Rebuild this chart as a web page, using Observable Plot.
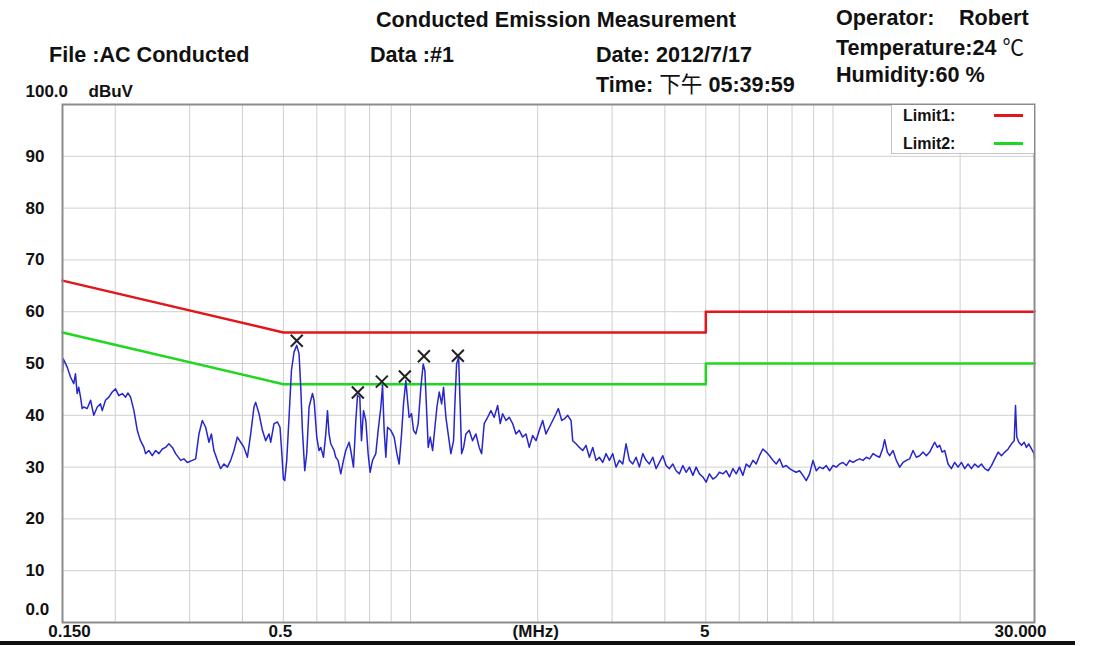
<!DOCTYPE html>
<html><head><meta charset="utf-8">
<script src="https://cdn.jsdelivr.net/npm/d3@7"></script>
<script src="https://cdn.jsdelivr.net/npm/@observablehq/plot@0.6"></script>
<style>
body{margin:0;background:#fff;}
#wrap{position:relative;width:1100px;height:646px;overflow:hidden;font-family:"Liberation Sans",Arial,"Noto Sans CJK SC",sans-serif;color:#111;}
#chart{position:absolute;left:0;top:0;}
.h{position:absolute;font-weight:bold;font-size:21.6px;line-height:1;white-space:pre;}
.cjk{font-family:"Noto Sans CJK SC",sans-serif;font-weight:normal;}
#legend{position:absolute;left:891px;top:105px;width:142px;height:48px;background:#fff;border-left:1px solid #c4c4c4;border-bottom:1px solid #c4c4c4;}
.lt{position:absolute;left:11px;font-size:16px;font-weight:bold;line-height:1;}
.ll{position:absolute;left:102px;width:29px;height:3px;}
#baseline{position:absolute;left:0;top:641px;width:1075px;height:4px;background:#111;}
</style></head><body>
<div id="wrap">
<div id="chart"></div>
<div class="h" style="left:376px;top:9px">Conducted Emission Measurement</div>
<div class="h" style="left:836px;top:7px">Operator:</div>
<div class="h" style="left:959px;top:7px">Robert</div>
<div class="h" style="left:836px;top:35px">Temperature:24 <span class="cjk">℃</span></div>
<div class="h" style="left:836px;top:64px">Humidity:60 %</div>
<div class="h" style="left:49px;top:44px">File :AC Conducted</div>
<div class="h" style="left:370px;top:44px">Data :#1</div>
<div class="h" style="left:596px;top:44px">Date: 2012/7/17</div>
<div class="h" style="left:596px;top:72px">Time: <span class="cjk">下午</span> 05:39:59</div>
<div id="legend">
  <div class="lt" style="top:3px">Limit1:</div>
  <div class="ll" style="top:9px;background:#e3141c"></div>
  <div class="lt" style="top:31px">Limit2:</div>
  <div class="ll" style="top:37px;background:#1ed81e"></div>
</div>
<div id="baseline"></div>
</div>
<script>
// measured trace: frequency (MHz) and level (dBuV)
const freq = [
0.150,0.1506,0.1539,0.1567,0.1595,0.1610,0.1625,0.1639,0.1655,0.1670,
0.1685,0.1716,0.1748,0.1779,0.1813,0.1845,0.1863,0.1896,0.1931,0.1967,
0.2003,0.2039,0.2078,0.2115,0.2142,0.2174,0.2214,0.2255,0.2274,0.2295,
0.2338,0.2359,0.2402,0.2447,0.2492,0.2537,0.2585,0.2631,0.2679,0.2730,
0.2779,0.2856,0.2907,0.2962,0.3044,0.3100,0.3156,0.3214,0.3273,0.3333,
0.3377,0.3424,0.3489,0.3552,0.3617,0.3685,0.3751,0.3819,0.3891,0.3962,
0.4034,0.4110,0.4184,0.4260,0.4300,0.4379,0.4460,0.4541,0.4624,0.4667,
0.4751,0.4841,0.4909,0.4947,0.5001,
0.5037,0.5092,0.5157,0.5224,0.5299,0.5378,0.5446,0.5497,0.5547,0.5618,
0.5679,0.5752,0.5859,0.5910,0.5998,0.6073,0.6131,0.6222,0.6300,0.6359,
0.6413,0.6474,0.6591,0.6652,0.6737,0.6837,0.6938,0.7026,0.7154,0.7221,
0.7327,0.7421,0.7490,0.7584,0.7654,0.7739,0.7836,0.7936,0.8022,0.8129,
0.8276,0.8382,0.8507,0.8585,0.8661,0.8741,0.8822,0.8983,0.9147,0.9282,
0.9399,0.9522,0.9625,0.9748,0.9838,0.9925,1.0056,1.0165,1.0295,1.0425,
1.0579,1.0714,1.0814,1.0934,1.1013,1.1133,1.1280,1.1421,1.1548,1.1693,
1.1848,1.1972,1.2126,1.2277,1.2459,1.2644,1.2735,1.2853,1.2996,1.3111,
1.3211,1.3354,1.3523,1.3769,1.4024,1.4281,1.4539,1.4733,1.4941,1.5222,
1.5498,1.5780,1.6076,1.6307,1.6520,1.6823,1.7129,1.7447,1.7766,1.8089,
1.8425,1.8764,1.9103,1.9458,1.9815,2.0175,2.0550,2.0924,2.1306,2.1704,
2.2097,2.2379,2.2800,
2.3122,2.3552,2.3985,2.4207,2.4647,2.5098,2.5565,2.6028,2.6507,2.7000,
2.7485,2.7990,2.8511,2.9028,2.9561,3.0111,3.0657,3.1220,3.1800,3.2376,
3.2970,3.3581,3.4190,3.4817,3.5465,3.6108,3.6764,3.7455,3.8133,3.8823,
3.9555,4.0272,4.1003,4.1775,4.2533,4.3304,4.4120,4.4919,4.5734,4.6596,
4.7434,4.8296,4.9205,5.0097,5.1006,5.1966,5.2908,5.3867,5.4882,5.5877,
5.6891,5.7963,5.9013,6.0083,6.1217,6.2327,6.3458,6.4652,6.5823,6.7002,
6.8249,6.9500,7.0761,7.2096,7.3403,7.4733,7.6140,7.7522,7.8926,8.0412,
8.1870,8.3355,8.4906,8.6466,8.8032,8.9690,9.1316,9.2972,9.4721,9.6440,
9.8189,10.001,10.185,10.370,10.562,10.757,10.952,11.155,11.358,11.566,
11.779,11.992,12.212,12.440,12.665,12.898,13.138,13.253,13.450,13.622,
13.875,14.126,14.386,14.652,14.917,15.191,15.474,15.753,16.042,16.341,
16.638,16.944,17.259,17.410,17.669,17.890,18.126,18.387,18.729,19.073,
19.418,19.779,20.142,20.508,20.889,21.273,21.659,22.062,22.467,22.875,
23.301,23.729,24.159,24.609,25.056,25.517,25.991,26.463,26.858,27.050,
27.243,27.540,27.948,28.364,28.714,29.076,29.508,29.945,30.0
];
const level = [
48.3,50.9,49.3,47.4,46.1,48.0,44.2,45.4,43.5,41.3,
41.6,41.3,42.9,40.0,41.6,42.2,40.9,42.9,43.5,44.5,
45.1,43.8,44.2,43.5,44.3,43.5,40.9,37.1,36.1,35.1,
33.8,32.6,33.2,32.2,33.2,32.6,33.5,33.8,34.5,33.8,
32.6,31.3,31.6,30.9,31.3,31.6,36.4,39.0,37.7,34.8,
36.4,33.2,31.3,29.7,30.6,30.0,31.3,33.2,35.8,34.8,
33.8,31.9,36.4,41.6,42.5,40.3,37.1,35.1,36.4,34.8,
38.4,38.7,37.7,33.8,27.7,
27.4,31.3,39.6,48.6,52.2,53.5,51.9,45.4,37.1,29.3,
32.6,41.6,44.2,42.9,35.8,33.2,33.8,31.9,36.4,40.9,
36.4,34.5,33.2,31.9,31.3,28.7,31.3,33.2,34.8,33.2,
30.0,39.0,43.8,43.5,35.1,40.9,39.0,32.6,29.0,31.3,
32.6,37.1,41.6,45.8,37.1,31.9,37.7,37.1,35.8,32.6,
30.6,36.4,42.2,46.7,42.9,39.6,40.3,37.1,36.4,38.4,
45.4,49.9,48.6,39.6,33.8,35.8,33.2,37.7,41.6,44.5,
42.2,45.4,39.6,36.4,32.6,35.1,42.2,49.9,51.2,41.6,
32.6,33.8,36.4,37.1,35.1,36.4,33.8,32.6,38.4,39.6,
40.9,39.6,41.9,38.4,40.3,39.0,39.6,38.4,36.4,37.1,
35.8,36.4,33.8,36.1,35.1,37.1,39.0,36.4,37.7,39.0,
40.3,41.3,39.0,
39.3,40.0,39.0,35.1,34.5,33.8,33.2,34.2,31.9,33.8,
31.3,31.9,30.9,32.6,31.3,32.6,30.0,31.3,30.6,34.5,
31.3,30.6,31.9,30.0,32.6,31.3,30.6,31.9,29.7,30.9,
32.2,30.3,29.7,30.6,29.3,28.7,30.3,29.0,30.0,28.4,
30.0,28.7,28.1,27.1,28.7,27.7,28.1,29.0,28.7,29.3,
28.1,29.7,28.7,30.0,28.4,30.6,30.0,31.3,30.6,32.2,
33.5,32.9,32.2,31.3,30.6,31.6,30.0,30.3,29.7,29.3,
29.0,29.3,28.4,27.4,28.7,31.3,29.3,30.0,29.7,30.3,
29.3,30.3,30.0,30.6,30.9,30.3,31.3,30.9,31.3,31.6,
31.3,31.9,31.6,32.6,32.2,31.9,33.8,35.3,32.9,32.2,
33.2,31.3,30.0,30.9,31.3,31.6,33.2,31.9,32.2,32.9,
32.2,32.9,34.2,34.8,33.8,34.2,32.9,33.2,30.6,29.7,
30.9,30.0,30.9,29.7,30.6,29.7,30.6,30.0,30.6,29.7,
29.3,30.3,31.6,32.9,32.2,32.9,33.5,34.5,35.1,41.9,
35.8,34.8,34.2,34.8,33.8,34.5,33.5,32.6,31.7
];
// limit lines
const limitFreq = [0.15, 0.5, 5, 5, 30];
const limit1 = [66, 56, 56, 60, 60];
const limit2 = [56, 46, 46, 50, 50];
// peak markers
const markerFreq = [0.5378, 0.7503, 0.8551, 0.9695, 1.0757, 1.2944];
const markerLevel = [54.4, 44.4, 46.5, 47.5, 51.4, 51.5];
// axes
const yTicks = [10, 20, 30, 40, 50, 60, 70, 80, 90];
const xGrid = [0.2,0.3,0.4,0.5,0.6,0.7,0.8,0.9,1,2,3,4,5,6,7,8,9,10,20];
const xLabelFreq = [0.15, 0.5, 2, 5, 30];
const xLabelText = ["0.150", "0.5", "(MHz)", "5", "30.000"];
const xLabelShift = [7, -3, -2, -1, -14];

const trace = freq.map((f, i) => ({f, v: level[i]}));
const lim1 = limitFreq.map((f, i) => ({f, v: limit1[i]}));
const lim2 = limitFreq.map((f, i) => ({f, v: limit2[i]}));
const markers = markerFreq.map((f, i) => ({f, v: markerLevel[i]}));

const lbl = {fontSize: 17, fontWeight: "bold", fill: "#111"};
const chart = Plot.plot({
  width: 1100, height: 646,
  marginLeft: 62, marginRight: 66, marginTop: 104, marginBottom: 24,
  x: {type: "log", domain: [0.15, 30], axis: null},
  y: {domain: [0, 100], axis: null},
  style: {fontFamily: "'Liberation Sans', Arial, sans-serif", background: "#fff"},
  marks: [
    Plot.gridX(xGrid, {stroke: "#cfcfcf", strokeOpacity: 1, strokeWidth: 1}),
    Plot.gridY(yTicks, {stroke: "#cfcfcf", strokeOpacity: 1, strokeWidth: 1}),
    Plot.line(lim1, {x: "f", y: "v", stroke: "#e3141c", strokeWidth: 2.5}),
    Plot.line(lim2, {x: "f", y: "v", stroke: "#1ed81e", strokeWidth: 2.5}),
    Plot.line(trace, {x: "f", y: "v", stroke: "#2626cc", strokeWidth: 1.5}),
    Plot.dot(markers, {x: "f", y: "v", symbol: "times", r: 5.5, stroke: "#222", strokeWidth: 2}),
    Plot.frame({stroke: "#8c8c8c", strokeWidth: 2}),
    Plot.text(yTicks, {y: d => d, text: d => String(d), frameAnchor: "left", dx: -37, textAnchor: "start", ...lbl}),
    Plot.text(["0.0"], {y: 0, text: d => d, frameAnchor: "left", dx: -37, dy: -13, textAnchor: "start", ...lbl}),
    Plot.text(["100.0"], {y: 100, text: d => d, frameAnchor: "left", dx: -37, dy: -13, textAnchor: "start", ...lbl}),
    Plot.text(["dBuV"], {y: 100, text: d => d, frameAnchor: "left", dx: 26, dy: -13, textAnchor: "start", ...lbl}),
    ...xLabelText.map((t, i) => Plot.text([t], {x: xLabelFreq[i], text: d => d, frameAnchor: "bottom", dy: 14, dx: xLabelShift[i], ...lbl}))
  ]
});
document.getElementById("chart").appendChild(chart);
</script>
</body></html>
